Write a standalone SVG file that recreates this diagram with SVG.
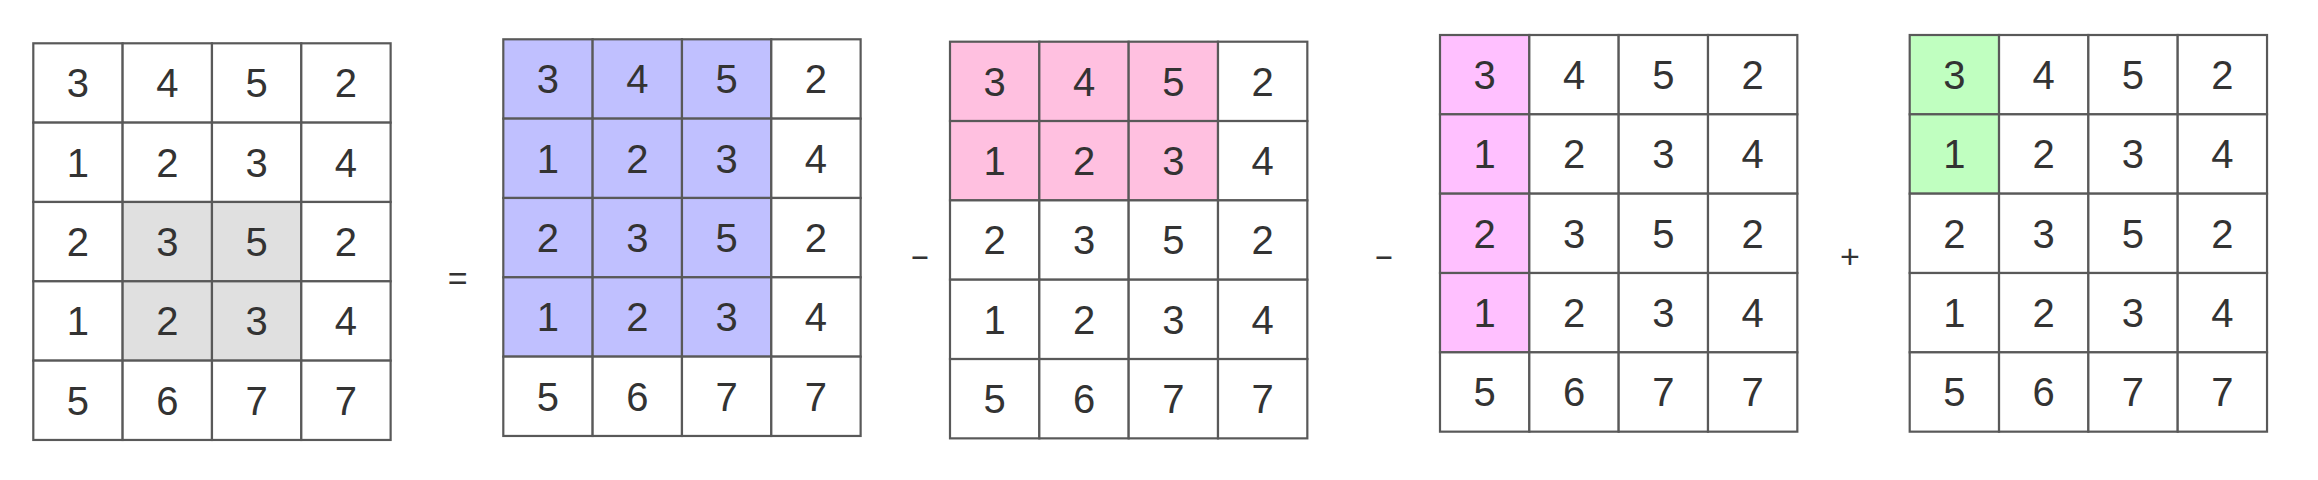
<svg xmlns="http://www.w3.org/2000/svg" width="2318" height="480" viewBox="0 0 2318 480">
<style>
.c{stroke:#595959;stroke-width:2.2;fill:#ffffff}
.g{fill:#e0e0e0}
.b{fill:#c0c0ff}
.p{fill:#ffc0e0}
.v{fill:#ffc0ff}
.n{fill:#c0ffc0}
text{font-family:"Liberation Sans",Arial,sans-serif;fill:#333333;text-anchor:middle}
.t{font-size:40px}
.op{font-size:34px}
</style>
<rect width="2318" height="480" fill="#ffffff"/>
<defs>
<g id="nums">
<text class="t" x="44.7" y="54">3</text><text class="t" x="134" y="54">4</text><text class="t" x="223.3" y="54">5</text><text class="t" x="312.7" y="54">2</text>
<text class="t" x="44.7" y="133.3">1</text><text class="t" x="134" y="133.3">2</text><text class="t" x="223.3" y="133.3">3</text><text class="t" x="312.7" y="133.3">4</text>
<text class="t" x="44.7" y="212.7">2</text><text class="t" x="134" y="212.7">3</text><text class="t" x="223.3" y="212.7">5</text><text class="t" x="312.7" y="212.7">2</text>
<text class="t" x="44.7" y="292">1</text><text class="t" x="134" y="292">2</text><text class="t" x="223.3" y="292">3</text><text class="t" x="312.7" y="292">4</text>
<text class="t" x="44.7" y="371.3">5</text><text class="t" x="134" y="371.3">6</text><text class="t" x="223.3" y="371.3">7</text><text class="t" x="312.7" y="371.3">7</text>
</g>
</defs>
<g id="grid-original" transform="translate(33.3,43.3)">
<rect class="c" x="0" y="0" width="89.33" height="79.33"/><rect class="c" x="89.33" y="0" width="89.33" height="79.33"/><rect class="c" x="178.67" y="0" width="89.33" height="79.33"/><rect class="c" x="268" y="0" width="89.33" height="79.33"/>
<rect class="c" x="0" y="79.33" width="89.33" height="79.33"/><rect class="c" x="89.33" y="79.33" width="89.33" height="79.33"/><rect class="c" x="178.67" y="79.33" width="89.33" height="79.33"/><rect class="c" x="268" y="79.33" width="89.33" height="79.33"/>
<rect class="c" x="0" y="158.67" width="89.33" height="79.33"/><rect class="c g" x="89.33" y="158.67" width="89.33" height="79.33"/><rect class="c g" x="178.67" y="158.67" width="89.33" height="79.33"/><rect class="c" x="268" y="158.67" width="89.33" height="79.33"/>
<rect class="c" x="0" y="238" width="89.33" height="79.33"/><rect class="c g" x="89.33" y="238" width="89.33" height="79.33"/><rect class="c g" x="178.67" y="238" width="89.33" height="79.33"/><rect class="c" x="268" y="238" width="89.33" height="79.33"/>
<rect class="c" x="0" y="317.33" width="89.33" height="79.33"/><rect class="c" x="89.33" y="317.33" width="89.33" height="79.33"/><rect class="c" x="178.67" y="317.33" width="89.33" height="79.33"/><rect class="c" x="268" y="317.33" width="89.33" height="79.33"/>
<use href="#nums"/>
</g>
<g id="op-equals"><text class="op" x="457.7" y="289.5">=</text></g>
<g id="grid-blue" transform="translate(503.3,39.3)">
<rect class="c b" x="0" y="0" width="89.33" height="79.33"/><rect class="c b" x="89.33" y="0" width="89.33" height="79.33"/><rect class="c b" x="178.67" y="0" width="89.33" height="79.33"/><rect class="c" x="268" y="0" width="89.33" height="79.33"/>
<rect class="c b" x="0" y="79.33" width="89.33" height="79.33"/><rect class="c b" x="89.33" y="79.33" width="89.33" height="79.33"/><rect class="c b" x="178.67" y="79.33" width="89.33" height="79.33"/><rect class="c" x="268" y="79.33" width="89.33" height="79.33"/>
<rect class="c b" x="0" y="158.67" width="89.33" height="79.33"/><rect class="c b" x="89.33" y="158.67" width="89.33" height="79.33"/><rect class="c b" x="178.67" y="158.67" width="89.33" height="79.33"/><rect class="c" x="268" y="158.67" width="89.33" height="79.33"/>
<rect class="c b" x="0" y="238" width="89.33" height="79.33"/><rect class="c b" x="89.33" y="238" width="89.33" height="79.33"/><rect class="c b" x="178.67" y="238" width="89.33" height="79.33"/><rect class="c" x="268" y="238" width="89.33" height="79.33"/>
<rect class="c" x="0" y="317.33" width="89.33" height="79.33"/><rect class="c" x="89.33" y="317.33" width="89.33" height="79.33"/><rect class="c" x="178.67" y="317.33" width="89.33" height="79.33"/><rect class="c" x="268" y="317.33" width="89.33" height="79.33"/>
<use href="#nums"/>
</g>
<g id="op-minus-1"><text class="op" transform="translate(920,267) scale(1.8,1)" x="0" y="0">-</text></g>
<g id="grid-pink" transform="translate(950,41.7)">
<rect class="c p" x="0" y="0" width="89.33" height="79.33"/><rect class="c p" x="89.33" y="0" width="89.33" height="79.33"/><rect class="c p" x="178.67" y="0" width="89.33" height="79.33"/><rect class="c" x="268" y="0" width="89.33" height="79.33"/>
<rect class="c p" x="0" y="79.33" width="89.33" height="79.33"/><rect class="c p" x="89.33" y="79.33" width="89.33" height="79.33"/><rect class="c p" x="178.67" y="79.33" width="89.33" height="79.33"/><rect class="c" x="268" y="79.33" width="89.33" height="79.33"/>
<rect class="c" x="0" y="158.67" width="89.33" height="79.33"/><rect class="c" x="89.33" y="158.67" width="89.33" height="79.33"/><rect class="c" x="178.67" y="158.67" width="89.33" height="79.33"/><rect class="c" x="268" y="158.67" width="89.33" height="79.33"/>
<rect class="c" x="0" y="238" width="89.33" height="79.33"/><rect class="c" x="89.33" y="238" width="89.33" height="79.33"/><rect class="c" x="178.67" y="238" width="89.33" height="79.33"/><rect class="c" x="268" y="238" width="89.33" height="79.33"/>
<rect class="c" x="0" y="317.33" width="89.33" height="79.33"/><rect class="c" x="89.33" y="317.33" width="89.33" height="79.33"/><rect class="c" x="178.67" y="317.33" width="89.33" height="79.33"/><rect class="c" x="268" y="317.33" width="89.33" height="79.33"/>
<use href="#nums"/>
</g>
<g id="op-minus-2"><text class="op" transform="translate(1384,267) scale(1.8,1)" x="0" y="0">-</text></g>
<g id="grid-violet" transform="translate(1440,35)">
<rect class="c v" x="0" y="0" width="89.33" height="79.33"/><rect class="c" x="89.33" y="0" width="89.33" height="79.33"/><rect class="c" x="178.67" y="0" width="89.33" height="79.33"/><rect class="c" x="268" y="0" width="89.33" height="79.33"/>
<rect class="c v" x="0" y="79.33" width="89.33" height="79.33"/><rect class="c" x="89.33" y="79.33" width="89.33" height="79.33"/><rect class="c" x="178.67" y="79.33" width="89.33" height="79.33"/><rect class="c" x="268" y="79.33" width="89.33" height="79.33"/>
<rect class="c v" x="0" y="158.67" width="89.33" height="79.33"/><rect class="c" x="89.33" y="158.67" width="89.33" height="79.33"/><rect class="c" x="178.67" y="158.67" width="89.33" height="79.33"/><rect class="c" x="268" y="158.67" width="89.33" height="79.33"/>
<rect class="c v" x="0" y="238" width="89.33" height="79.33"/><rect class="c" x="89.33" y="238" width="89.33" height="79.33"/><rect class="c" x="178.67" y="238" width="89.33" height="79.33"/><rect class="c" x="268" y="238" width="89.33" height="79.33"/>
<rect class="c" x="0" y="317.33" width="89.33" height="79.33"/><rect class="c" x="89.33" y="317.33" width="89.33" height="79.33"/><rect class="c" x="178.67" y="317.33" width="89.33" height="79.33"/><rect class="c" x="268" y="317.33" width="89.33" height="79.33"/>
<use href="#nums"/>
</g>
<g id="op-plus"><text class="op" x="1850" y="267.5">+</text></g>
<g id="grid-green" transform="translate(1909.7,35)">
<rect class="c n" x="0" y="0" width="89.33" height="79.33"/><rect class="c" x="89.33" y="0" width="89.33" height="79.33"/><rect class="c" x="178.67" y="0" width="89.33" height="79.33"/><rect class="c" x="268" y="0" width="89.33" height="79.33"/>
<rect class="c n" x="0" y="79.33" width="89.33" height="79.33"/><rect class="c" x="89.33" y="79.33" width="89.33" height="79.33"/><rect class="c" x="178.67" y="79.33" width="89.33" height="79.33"/><rect class="c" x="268" y="79.33" width="89.33" height="79.33"/>
<rect class="c" x="0" y="158.67" width="89.33" height="79.33"/><rect class="c" x="89.33" y="158.67" width="89.33" height="79.33"/><rect class="c" x="178.67" y="158.67" width="89.33" height="79.33"/><rect class="c" x="268" y="158.67" width="89.33" height="79.33"/>
<rect class="c" x="0" y="238" width="89.33" height="79.33"/><rect class="c" x="89.33" y="238" width="89.33" height="79.33"/><rect class="c" x="178.67" y="238" width="89.33" height="79.33"/><rect class="c" x="268" y="238" width="89.33" height="79.33"/>
<rect class="c" x="0" y="317.33" width="89.33" height="79.33"/><rect class="c" x="89.33" y="317.33" width="89.33" height="79.33"/><rect class="c" x="178.67" y="317.33" width="89.33" height="79.33"/><rect class="c" x="268" y="317.33" width="89.33" height="79.33"/>
<use href="#nums"/>
</g>
<g id="connectors"></g>
</svg>
